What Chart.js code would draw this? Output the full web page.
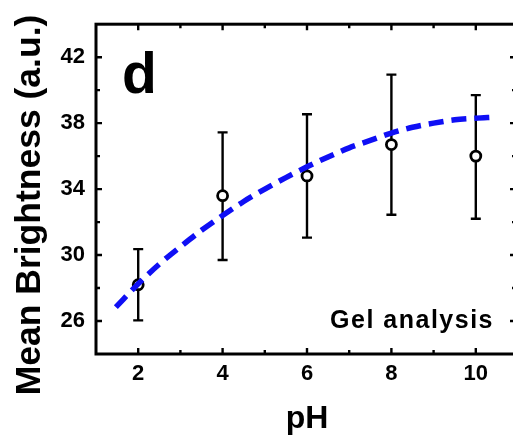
<!DOCTYPE html>
<html><head><meta charset="utf-8">
<script src="https://cdn.jsdelivr.net/npm/chart.js@4.4.1/dist/chart.umd.min.js"></script>
<style>
html,body{margin:0;padding:0;overflow:hidden;background:#fff;width:513px;height:441px;}
#wrap{position:absolute;left:0;top:0;width:530px;height:441px;}
</style></head><body>
<div id="wrap"><canvas id="c" width="530" height="441"></canvas></div>
<script>
// ---- data ----
const pH = [2, 4, 6, 8, 10];
const meanBrightness = [28.2, 33.6, 34.8, 36.7, 36.0];
const errUpper = [30.36, 37.44, 38.54, 40.94, 39.7];
const errLower = [26.04, 29.7, 31.06, 32.44, 32.2];
const fitPH = [1.47, 2.0, 2.5, 3.0, 3.5, 4.0, 4.5, 5.0, 5.5, 6.0, 6.5, 7.0, 7.5, 8.0, 8.5, 9.0, 9.5, 10.0, 10.42];
const fitBrightness = [26.84, 28.25, 29.45, 30.5, 31.5, 32.4, 33.25, 34.0, 34.7, 35.35, 35.95, 36.5, 36.95, 37.4, 37.75, 38.0, 38.2, 38.3, 38.36];
const xTickLabels = [2, 4, 6, 8, 10];
const yTickLabels = [26, 30, 34, 38, 42];
const xMinorTicks = [3, 5, 7, 9];
const yMinorTicks = [28, 32, 36, 40];
const xRange = [1, 11];
const yRange = [24, 44];
const panelLabel = 'd';
const noteText = 'Gel analysis';
const xTitle = 'pH';
const yTitle = 'Mean Brightness (a.u.)';

const FONT = "'Liberation Sans', Arial, Helvetica, sans-serif";

const errorBarPlugin = {
  id: 'errorBars',
  beforeDatasetsDraw(chart) {
    const {ctx, scales: {x, y}} = chart;
    ctx.save();
    ctx.strokeStyle = '#000';
    ctx.lineWidth = 2.4;
    const cap = 5;
    pH.forEach((v, i) => {
      const px = x.getPixelForValue(v);
      const yt = y.getPixelForValue(errUpper[i]);
      const yb = y.getPixelForValue(errLower[i]);
      ctx.beginPath();
      ctx.moveTo(px, yt); ctx.lineTo(px, yb);
      ctx.moveTo(px - cap, yt); ctx.lineTo(px + cap, yt);
      ctx.moveTo(px - cap, yb); ctx.lineTo(px + cap, yb);
      ctx.stroke();
    });
    ctx.restore();
  }
};

const framePlugin = {
  id: 'frame',
  afterDraw(chart) {
    const {ctx, chartArea: a, scales: {x, y}} = chart;
    ctx.save();
    ctx.strokeStyle = '#000';
    ctx.lineWidth = 2.4;
    const major = 6, minor = 4;
    ctx.beginPath();
    xTickLabels.forEach(v => {
      const p = x.getPixelForValue(v);
      ctx.moveTo(p, a.bottom); ctx.lineTo(p, a.bottom - major);
      ctx.moveTo(p, a.top); ctx.lineTo(p, a.top + major);
    });
    xMinorTicks.forEach(v => {
      const p = x.getPixelForValue(v);
      ctx.moveTo(p, a.bottom); ctx.lineTo(p, a.bottom - minor);
      ctx.moveTo(p, a.top); ctx.lineTo(p, a.top + minor);
    });
    yTickLabels.forEach(v => {
      const p = y.getPixelForValue(v);
      ctx.moveTo(a.left, p); ctx.lineTo(a.left + major, p);
      ctx.moveTo(a.right, p); ctx.lineTo(a.right - major - 2, p);
    });
    yMinorTicks.forEach(v => {
      const p = y.getPixelForValue(v);
      ctx.moveTo(a.left, p); ctx.lineTo(a.left + minor, p);
      ctx.moveTo(a.right, p); ctx.lineTo(a.right - minor - 2, p);
    });
    ctx.stroke();
    ctx.lineWidth = 3;
    ctx.strokeRect(a.left, a.top, a.right - a.left, a.bottom - a.top);

    // texts
    ctx.fillStyle = '#000';
    ctx.font = "bold 57px " + FONT;
    ctx.textAlign = 'left';
    ctx.textBaseline = 'alphabetic';
    ctx.fillText(panelLabel, 122, 93);

    ctx.font = "bold 25px " + FONT;
    ctx.textAlign = 'right';
    try { ctx.letterSpacing = '1.5px'; } catch (e) {}
    ctx.fillText(noteText, 494, 328);
    try { ctx.letterSpacing = '0px'; } catch (e) {}

    ctx.translate(40, 205);
    ctx.rotate(-Math.PI / 2);
    ctx.font = "bold 35.5px " + FONT;
    ctx.textAlign = 'center';
    ctx.textBaseline = 'alphabetic';
    ctx.fillText(yTitle, 0, 0);
    ctx.restore();
  }
};

new Chart(document.getElementById('c'), {
  type: 'scatter',
  data: {
    datasets: [
      {
        label: 'fit',
        data: fitPH.map((v, i) => ({x: v, y: fitBrightness[i]})),
        showLine: true,
        borderColor: 'rgb(15,15,245)',
        borderWidth: 5.5,
        borderDash: [15, 8],
        pointRadius: 0,
        cubicInterpolationMode: 'monotone',
        order: 0
      },
      {
        label: 'Gel analysis',
        data: pH.map((v, i) => ({x: v, y: meanBrightness[i]})),
        pointRadius: 5,
        pointBorderWidth: 2.8,
        pointBorderColor: '#000',
        pointBackgroundColor: '#fff',
        order: 1
      }
    ]
  },
  options: {
    responsive: false,
    animation: false,
    devicePixelRatio: 1,
    layout: {padding: {top: 20, right: 12, left: 0, bottom: 0}},
    plugins: {legend: {display: false}, tooltip: {enabled: false}},
    scales: {
      x: {
        type: 'linear', position: 'bottom', min: xRange[0], max: xRange[1],
        grid: {display: false, drawTicks: false, tickLength: 0},
        border: {display: false},
        afterBuildTicks: s => { s.ticks = xTickLabels.map(v => ({value: v})); },
        afterFit: s => { s.height = 87; },
        ticks: {color: '#000', font: {family: FONT, size: 22, weight: 'bold'}, padding: 7, maxRotation: 0, autoSkip: false},
        title: {display: true, text: xTitle, color: '#000', font: {family: FONT, size: 32, weight: 'bold', lineHeight: 1}, padding: {top: 0, bottom: 6}}
      },
      y: {
        type: 'linear', position: 'left', min: yRange[0], max: yRange[1],
        grid: {display: false, drawTicks: false, tickLength: 0},
        border: {display: false},
        afterBuildTicks: s => { s.ticks = yTickLabels.map(v => ({value: v})); },
        afterFit: s => { s.width = 96; },
        ticks: {color: '#000', font: {family: FONT, size: 22, weight: 'bold'}, padding: 11, autoSkip: false}
      }
    }
  },
  plugins: [errorBarPlugin, framePlugin]
});
</script>
</body></html>
